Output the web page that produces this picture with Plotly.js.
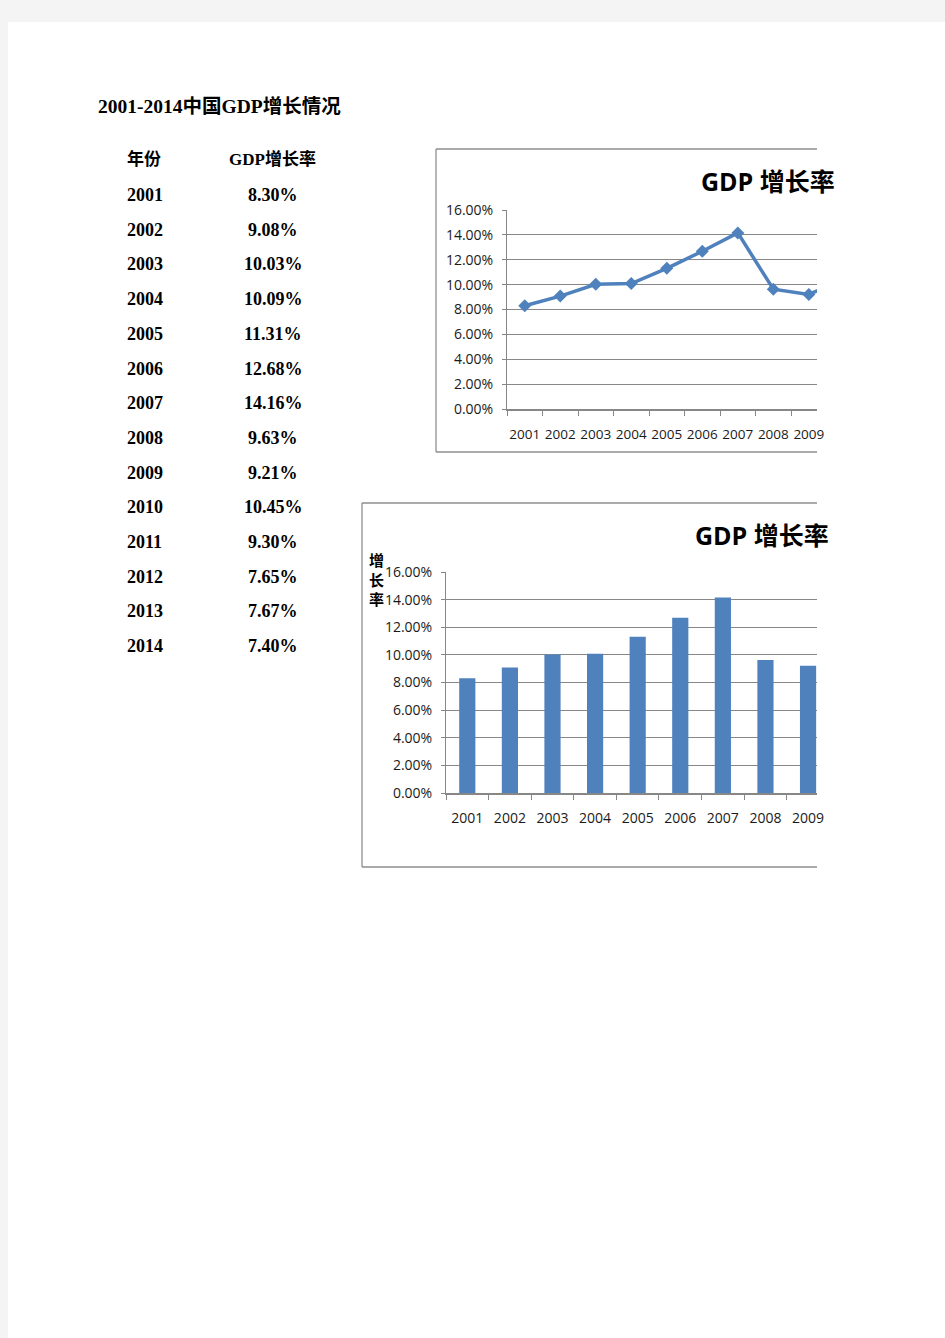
<!DOCTYPE html>
<html>
<head>
<meta charset="utf-8">
<script src="https://cdn.plot.ly/plotly-3.0.1.min.js"></script>
<style>
  html, body { margin: 0; padding: 0; background: #f4f4f4; }
  #chart { width: 945px; height: 1338px; }
</style>
</head>
<body>
<div id="chart"></div>
<script>
// ---- data ----
const pageTitle = "2001-2014中国GDP增长情况";
const headerYear = "年份";
const headerRate = "GDP增长率";
const chartTitle = "GDP 增长率";
const axisTitle = "增长率";
const years = ["2001","2002","2003","2004","2005","2006","2007","2008","2009","2010","2011","2012","2013","2014"];
const growth = [8.30, 9.08, 10.03, 10.09, 11.31, 12.68, 14.16, 9.63, 9.21, 10.45, 9.30, 7.65, 7.67, 7.40];
const yTicks = [0, 2, 4, 6, 8, 10, 12, 14, 16];
const yTickText = yTicks.map(v => v.toFixed(2) + "%");

// ---- layout helpers (page pixels -> paper) ----
const W = 945, H = 1338;
const px = x => x / W;
const py = y => 1 - y / H;

const blue = "#4F81BD";
const grid = "#878787";
const frame = "#8e8e8e";
const tickFont = {family: "Open Sans, Noto Sans, sans-serif", size: 14, color: "#1a1a1a"};
const tableFont = {family: "Liberation Serif, Noto Sans CJK SC, serif", size: 18, color: "#000"};

const annotations = [];
function txt(text, x, y, anchor, font) {
  annotations.push({text, x: px(x), y: py(y), xref: "paper", yref: "paper",
    xanchor: anchor, yanchor: "middle", showarrow: false, font, borderpad: 0});
}
// table
txt("<b>" + pageTitle + "</b>", 97, 106, "left", {...tableFont, size: 19.5});
txt("<b>" + headerYear + "</b>", 126, 159, "left", {...tableFont, size: 17});
txt("<b>" + headerRate + "</b>", 272, 159, "center", {...tableFont, size: 17});
const rowY0 = 195, rowStep = 34.7;
years.forEach((yr, i) => {
  txt("<b>" + yr + "</b>", 126, rowY0 + i * rowStep, "left", tableFont);
  txt("<b>" + growth[i].toFixed(2) + "%</b>", 273, rowY0 + i * rowStep, "center", tableFont);
});
// chart titles
const titleFont = {family: "Open Sans, Noto Sans CJK SC, sans-serif", size: 25, color: "#000"};
txt("<b>" + chartTitle + "</b>", 768, 181, "center", titleFont);
txt("<b>" + chartTitle + "</b>", 762, 535, "center", titleFont);
txt("<b>" + axisTitle.split("").join("<br>") + "</b>", 376, 579, "center",
    {family: "Noto Sans CJK SC, sans-serif", size: 15, color: "#000"});

// shapes: page and chart frames
const shapes = [
  {type: "rect", xref: "paper", yref: "paper", x0: px(8), x1: 1, y0: 0, y1: py(22),
   fillcolor: "#ffffff", line: {width: 0}, layer: "below"},
];
function openFrame(l, t, r, b) {
  [[l, t, r, t], [l, t, l, b], [l, b, r, b]].forEach(s => shapes.push({
    type: "line", xref: "paper", yref: "paper",
    x0: px(s[0]), y0: py(s[1]), x1: px(s[2]), y1: py(s[3]),
    line: {color: frame, width: 1.3}}));
}
openFrame(436, 149, 817, 452);
openFrame(362, 503, 817, 867);

const yCommon = {
  range: [0, 16], tickmode: "array", tickvals: yTicks, ticktext: yTickText,
  showgrid: true, gridcolor: grid, gridwidth: 1, zeroline: false,
  showline: true, linecolor: grid, linewidth: 1,
  ticks: "outside", ticklen: 4, tickcolor: grid, tickfont: tickFont,
  ticklabelstandoff: 6, fixedrange: true
};
const xCommon = {
  type: "category", showgrid: false, zeroline: false,
  showline: true, linecolor: grid, linewidth: 1.5,
  ticks: "outside", ticklen: 5, tickcolor: grid, tickson: "boundaries",
  tickfont: tickFont, tickangle: 0, fixedrange: true
};

const traces = [
  {type: "scatter", mode: "lines+markers", x: years, y: growth, xaxis: "x", yaxis: "y",
   line: {color: blue, width: 3.5}, marker: {symbol: "diamond", size: 10, color: blue},
   cliponaxis: true, hoverinfo: "skip"},
  {type: "bar", x: years, y: growth, xaxis: "x2", yaxis: "y2",
   marker: {color: blue}, hoverinfo: "skip"}
];

const layout = {
  width: W, height: H, margin: {l: 0, r: 0, t: 0, b: 0},
  paper_bgcolor: "rgba(0,0,0,0)", plot_bgcolor: "rgba(0,0,0,0)",
  showlegend: false, bargap: 0.62,
  xaxis: {...xCommon, domain: [px(507), px(817)], range: [-0.5, 8.23], anchor: "y",
          ticklabelstandoff: 12, tickfont: {...tickFont, size: 13.5}},
  yaxis: {...yCommon, domain: [py(409), py(210)], anchor: "x"},
  xaxis2: {...xCommon, domain: [px(446), px(817)], range: [-0.5, 8.21], anchor: "y2",
           ticklabelstandoff: 12},
  yaxis2: {...yCommon, domain: [py(793), py(572)], anchor: "x2"},
  shapes, annotations
};

Plotly.newPlot("chart", traces, layout, {displayModeBar: false, staticPlot: true});
</script>
</body>
</html>
